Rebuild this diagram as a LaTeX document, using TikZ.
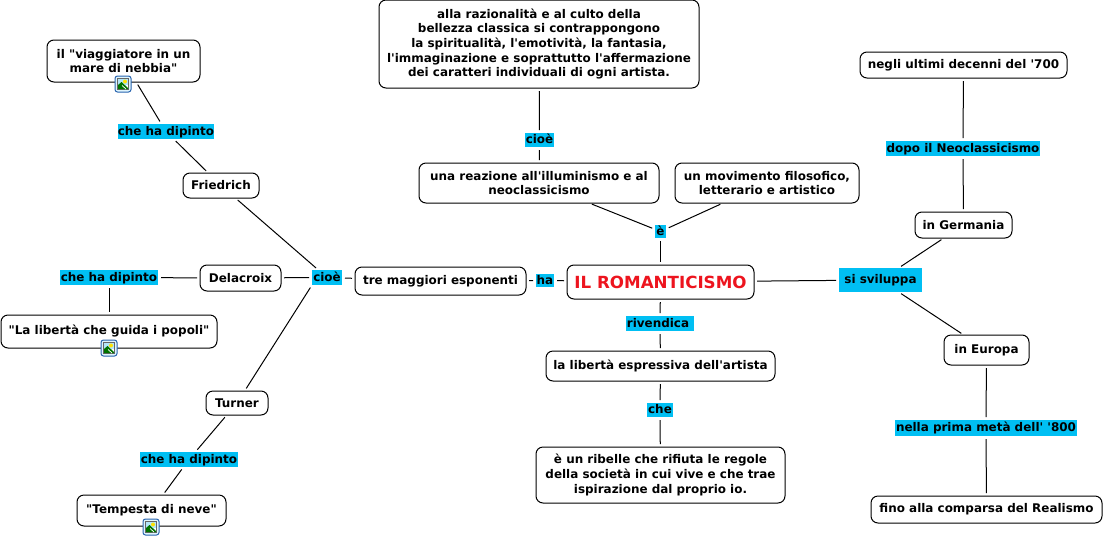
\documentclass[tikz,border=0pt]{standalone}
\usepackage{fontspec}
\setmainfont{DejaVu Sans}[Ligatures=TeXOff]
\usetikzlibrary{calc}
\definecolor{cyan1}{RGB}{0,191,243}
\definecolor{romred}{RGB}{237,20,30}
\definecolor{iconblue}{RGB}{40,100,175}
\tikzset{
  base/.style={font=\fontsize{11.95}{14.7}\selectfont\bfseries,align=center,inner sep=0pt,outer sep=0pt,text=black},
  cbox/.style={base,draw=black,line width=1pt,rounded corners=7pt,fill=white},
  lab/.style={base,fill=cyan1,text height=9.5pt,text depth=2.5pt},
  conn/.style={draw=black,line width=1pt,shorten <=3pt,shorten >=3pt},
  pics/imgicon/.style={code={
    \draw[draw=iconblue,fill=cyan!12,line width=1pt,rounded corners=2.5pt] (-8,-8) rectangle (8,8);
    \fill[white,draw=black!60,line width=.6pt] (-5.5,-5.5) rectangle (5.5,5.5);
    \fill[cyan!30] (-5,-5) rectangle (5,1);
    \fill[yellow!85!orange] (2,-2.5) circle (2);
    \fill[green!45!black] (-5,5) -- (-5,1) -- (-1.5,-2) -- (5,4) -- (5,5) -- cycle;
    \draw[white,line width=.7pt] (-1,1.5) -- (3,5);
  }}
}
\begin{document}
\begin{tikzpicture}[x=1pt,y=-1pt]
\useasboundingbox (0,0) rectangle (1104,539);
\fill[white] (0,0) rectangle (1104,539);
\def\B#1#2#3#4#5#6{\node[cbox,minimum width=#4-#2,minimum height=#5-#3] (#1) at ({(#2+#4)/2},{(#3+#5)/2}) {#6};}
\def\L#1#2#3#4#5#6{\node[lab,minimum width=#4-#2,minimum height=#5-#3] (#1) at ({(#2+#4)/2},{(#3+#5)/2}) {#6};}
\B{top}{379}{0}{699}{88}{alla razionalità e al culto della\\bellezza classica si contrappongono\\la spiritualità, l'emotività, la fantasia,\\l'immaginazione e soprattutto l'affermazione\\dei caratteri individuali di ogni artista.}
\B{viag}{47}{40}{200}{82}{il "viaggiatore in un\\mare di nebbia"}
\B{fried}{183}{173}{259}{198}{Friedrich}
\B{dela}{200}{265}{281}{291}{Delacroix}
\B{liberta}{1}{315}{217}{348}{"La libertà che guida i popoli"}
\B{turner}{206}{391}{268}{415}{Turner}
\B{temp}{77}{495}{226}{526}{"Tempesta di neve"}
\B{tre}{355}{267}{526}{295}{tre maggiori esponenti}
\node[cbox,font=\fontsize{16.7}{19}\selectfont\bfseries,text=romred,minimum width=187,minimum height=34] (rom) at (660.5,282) {IL ROMANTICISMO};
\B{reaz}{419}{163}{659}{203}{una reazione all'illuminismo e al\\neoclassicismo}
\B{mov}{675}{163}{859}{203}{un movimento filosofico,\\letterario e artistico}
\B{lib}{546}{351}{775}{381}{la libertà espressiva dell'artista}
\B{rib}{536}{447}{785}{503}{è un ribelle che rifiuta le regole\\della società in cui vive e che trae\\ispirazione dal proprio io.}
\B{negli}{860}{52}{1067}{78}{negli ultimi decenni del '700}
\B{germ}{915}{212}{1012}{238}{in Germania}
\B{eur}{944}{335}{1029}{365}{in Europa}
\B{fino}{871}{496}{1102}{523}{fino alla comparsa del Realismo}
\L{l1}{118}{124}{214}{139}{che ha dipinto}
\L{l2}{60}{270}{158}{285}{che ha dipinto}
\L{l3}{140}{452}{238}{467}{che ha dipinto}
\L{lc}{312}{270}{342}{285}{cioè}
\L{lctop}{525}{133}{554}{147}{cioè}
\L{le}{655}{225}{666}{238}{è}
\L{lha}{536}{274}{554}{287}{ha}
\L{lriv}{626}{316}{694}{331}{rivendica\hspace{4pt}}
\L{lche}{647}{403}{673}{417}{che}
\L{lsi}{839}{268}{922}{292}{si sviluppa}
\L{ldopo}{886}{141}{1040}{156}{dopo il Neoclassicismo}
\L{lnel}{895}{420}{1077}{436}{nella prima metà dell' '800}
\foreach \a/\b in {top/lctop,lctop/reaz,reaz/le,mov/le,le/rom,rom/lriv,lriv/lib,lib/lche,lche/rib,
  tre/lha,lha/rom,rom/lsi,lsi/germ,germ/ldopo,ldopo/negli,lsi/eur,eur/lnel,lnel/fino,
  viag/l1,l1/fried,fried/lc,dela/lc,lc/tre,lc.south west/turner,dela/l2,l2/liberta,turner/l3,l3/temp}
  \draw[conn] (\a) -- (\b);
\pic at (123,84) {imgicon};
\pic at (109,348) {imgicon};
\pic at (151,527) {imgicon};
\end{tikzpicture}
\end{document}
